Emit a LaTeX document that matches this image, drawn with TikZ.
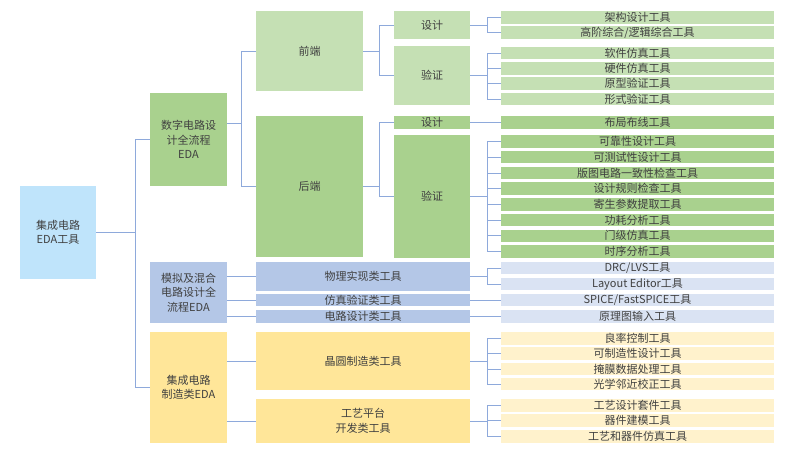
\documentclass[tikz,border=0pt]{standalone}
\usepackage{fontspec}
\setmainfont{Noto Sans CJK SC}
\usepackage{tikz}
\usepackage{xcolor}
\definecolor{txt}{HTML}{404040}
\definecolor{lnk}{HTML}{8EA9DB}
\definecolor{rootblue}{HTML}{BFE4FB}
\definecolor{grn}{HTML}{A9D18E}
\definecolor{grnlight}{HTML}{C5E0B4}
\definecolor{blu}{HTML}{B4C7E7}
\definecolor{blulight}{HTML}{DAE3F3}
\definecolor{ylw}{HTML}{FFE699}
\definecolor{ylwlight}{HTML}{FFF2CC}

\begin{document}
\begin{tikzpicture}[x=1pt,y=-1pt]
\tikzset{
  box/.style={inner sep=0pt, align=center, text=txt, font=\fontsize{11}{14.5}\selectfont},
  leaf/.style={box, minimum width=273pt, minimum height=12.5pt},
  link/.style={draw=lnk, line width=0.8pt},
}
\useasboundingbox (0,0) rectangle (800,456);
% first and second level
\node [box, fill=rootblue, minimum width=76pt, minimum height=93pt] (root) at (58,232.5) {集成电路\\EDA工具};
\node [box, fill=grn, minimum width=77pt, minimum height=93pt] (dig) at (188.5,139.5) {数字电路设\\计全流程\\EDA};
\node [box, fill=blu, minimum width=77pt, minimum height=61pt] (ana) at (188.5,292.5) {模拟及混合\\电路设计全\\流程EDA};
\node [box, fill=ylw, minimum width=77pt, minimum height=111pt] (mfg) at (188.5,387.5) {集成电路\\制造类EDA};
% third level
\node [box, fill=grnlight, minimum width=107pt, minimum height=80pt] (fe) at (309.5,51) {前端};
\node [box, fill=grn, minimum width=107pt, minimum height=141pt] (be) at (309.5,186.5) {后端};
\node [box, fill=grnlight, minimum width=76pt, minimum height=28pt] (fedes) at (432,25) {设计};
\node [box, fill=grnlight, minimum width=76pt, minimum height=59pt] (feval) at (432,75.5) {验证};
\node [box, fill=grn, minimum width=76pt, minimum height=13pt] (bedes) at (432,122.5) {设计};
\node [box, fill=grn, minimum width=76pt, minimum height=123pt] (beval) at (432,196.5) {验证};
\node [box, fill=blu, minimum width=214pt, minimum height=29pt] (phys) at (363,276.5) {物理实现类工具};
\node [box, fill=blu, minimum width=214pt, minimum height=12pt] (simu) at (363,300) {仿真验证类工具};
\node [box, fill=blu, minimum width=214pt, minimum height=13pt] (circ) at (363,316.5) {电路设计类工具};
\node [box, fill=ylw, minimum width=214pt, minimum height=58pt] (wafer) at (363,361) {晶圆制造类工具};
\node [box, fill=ylw, minimum width=214pt, minimum height=44pt] (proc) at (363,421) {工艺平台\\开发类工具};
% tools
\node [leaf, fill=grnlight] (arch) at (637.5,17.5) {架构设计工具};
\node [leaf, fill=grnlight] (synth) at (637.5,32.5) {高阶综合/逻辑综合工具};
\node [leaf, fill=grnlight] (swsim) at (637.5,53) {软件仿真工具};
\node [leaf, fill=grnlight] (hwsim) at (637.5,68.5) {硬件仿真工具};
\node [leaf, fill=grnlight] (proto) at (637.5,83.5) {原型验证工具};
\node [leaf, fill=grnlight] (formal) at (637.5,99) {形式验证工具};
\node [leaf, fill=grn] (pnr) at (637.5,122.5) {布局布线工具};
\node [leaf, fill=grn] (relia) at (637.5,141.5) {可靠性设计工具};
\node [leaf, fill=grn] (dft) at (637.5,157.2) {可测试性设计工具};
\node [leaf, fill=grn] (lvs) at (637.5,172.9) {版图电路一致性检查工具};
\node [leaf, fill=grn] (drc) at (637.5,188.6) {设计规则检查工具};
\node [leaf, fill=grn] (pex) at (637.5,204.4) {寄生参数提取工具};
\node [leaf, fill=grn] (power) at (637.5,220.1) {功耗分析工具};
\node [leaf, fill=grn] (gate) at (637.5,235.8) {门级仿真工具};
\node [leaf, fill=grn] (sta) at (637.5,251.5) {时序分析工具};
\node [leaf, fill=blulight] (drclvs) at (637.5,268) {DRC/LVS工具};
\node [leaf, fill=blulight] (layout) at (637.5,284) {Layout Editor工具};
\node [leaf, fill=blulight] (spice) at (637.5,300) {SPICE/FastSPICE工具};
\node [leaf, fill=blulight] (schem) at (637.5,316.5) {原理图输入工具};
\node [leaf, fill=ylwlight] (yield) at (637.5,338.5) {良率控制工具};
\node [leaf, fill=ylwlight] (dfm) at (637.5,353.5) {可制造性设计工具};
\node [leaf, fill=ylwlight] (mask) at (637.5,369) {掩膜数据处理工具};
\node [leaf, fill=ylwlight] (opc) at (637.5,384) {光学邻近校正工具};
\node [leaf, fill=ylwlight] (pdk) at (637.5,405.5) {工艺设计套件工具};
\node [leaf, fill=ylwlight] (model) at (637.5,420.5) {器件建模工具};
\node [leaf, fill=ylwlight] (tcad) at (637.5,436.5) {工艺和器件仿真工具};
% connectors
\draw [link] (root.east) -- ++(39,0) |- (dig.west);
\draw [link] (root.east) -- ++(39,0) |- (mfg.west);
\draw [link] ([yshift=16.5pt]dig.east) -- ++(14,0) |- (fe.west);
\draw [link] ([yshift=16.5pt]dig.east) -- ++(14,0) |- (be.west);
\draw [link] (ana.east |- phys) -- (phys.west);
\draw [link] (ana.east |- simu) -- (simu.west);
\draw [link] (ana.east |- circ) -- (circ.west);
\draw [link] (mfg.east |- wafer) -- (wafer.west);
\draw [link] (mfg.east |- proc) -- (proc.west);
\draw [link] (fe.east) -- ++(16,0) |- (fedes.west);
\draw [link] (fe.east) -- ++(16,0) |- (feval.west);
\draw [link] (be.east) -- ++(16,0) |- (bedes.west);
\draw [link] (be.east) -- ++(16,0) |- (beval.west);
\draw [link] (fedes.east) -- ++(17,0) |- (arch.west);
\draw [link] (fedes.east) -- ++(17,0) |- (synth.west);
\draw [link] (feval.east) -- ++(17,0) |- (swsim.west);
\draw [link] (feval.east) -- ++(17,0) |- (hwsim.west);
\draw [link] (feval.east) -- ++(17,0) |- (proto.west);
\draw [link] (feval.east) -- ++(17,0) |- (formal.west);
\draw [link] (bedes.east) -- (pnr.west);
\draw [link] (beval.east) -- ++(17,0) |- (relia.west);
\draw [link] (beval.east) -- ++(17,0) |- (dft.west);
\draw [link] (beval.east) -- ++(17,0) |- (lvs.west);
\draw [link] (beval.east) -- ++(17,0) |- (drc.west);
\draw [link] (beval.east) -- ++(17,0) |- (pex.west);
\draw [link] (beval.east) -- ++(17,0) |- (power.west);
\draw [link] (beval.east) -- ++(17,0) |- (gate.west);
\draw [link] (beval.east) -- ++(17,0) |- (sta.west);
\draw [link] (phys.east) -- ++(17,0) |- (drclvs.west);
\draw [link] (phys.east) -- ++(17,0) |- (layout.west);
\draw [link] (simu.east) -- (spice.west);
\draw [link] (circ.east) -- (schem.west);
\draw [link] (wafer.east) -- ++(17,0) |- (yield.west);
\draw [link] (wafer.east) -- ++(17,0) |- (dfm.west);
\draw [link] (wafer.east) -- ++(17,0) |- (mask.west);
\draw [link] (wafer.east) -- ++(17,0) |- (opc.west);
\draw [link] (proc.east) -- ++(17,0) |- (pdk.west);
\draw [link] (proc.east) -- ++(17,0) |- (model.west);
\draw [link] (proc.east) -- ++(17,0) |- (tcad.west);
\end{tikzpicture}
\end{document}
